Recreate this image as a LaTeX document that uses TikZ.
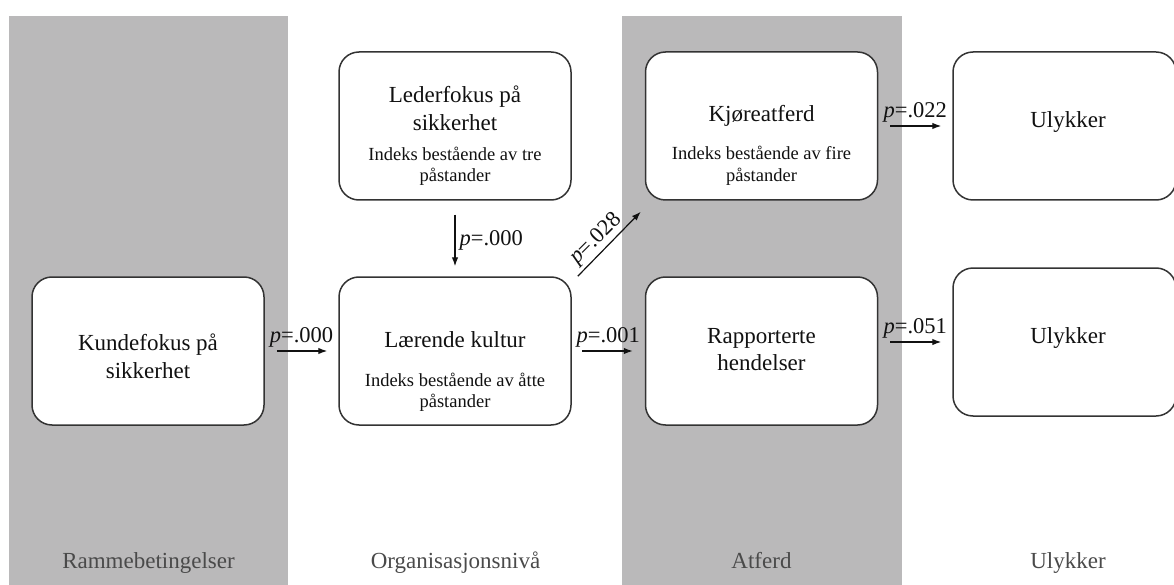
\documentclass[tikz,border=0pt]{standalone}
\usepackage{fontspec}
\setmainfont{Liberation Serif}
\usetikzlibrary{arrows.meta,calc}
\definecolor{bandgray}{HTML}{BAB9BA}
\definecolor{boxline}{HTML}{333333}
\definecolor{txt}{HTML}{111111}
\definecolor{lblgray}{HTML}{4A4A4A}
\begin{document}
\begin{tikzpicture}[x=1pt,y=-1pt,
  box/.style={draw=boxline, line width=1.5pt, rounded corners=20pt, fill=white, minimum width=232pt, minimum height=148pt, inner sep=0pt},
  ttl/.style={anchor=base, inner sep=0pt, text=txt, font=\fontsize{23}{28}\selectfont},
  sub/.style={anchor=base, inner sep=0pt, text=txt, font=\fontsize{18.5}{22}\selectfont},
  plab/.style={anchor=base, inner sep=0pt, text=txt, font=\fontsize{22.5}{26}\selectfont},
  col/.style={anchor=base, inner sep=0pt, text=lblgray, font=\fontsize{23}{28}\selectfont},
  arr/.style={-{Latex[length=9pt,width=6.5pt]}, line width=1.2pt, draw=txt}]
\useasboundingbox (0,0) rectangle (1174,585);
% bands
\fill[bandgray] (9,16) rectangle (288,585);
\fill[bandgray] (622,16) rectangle (902,585);
% boxes
\node[box] (kunde) at (148,351) {};
\node[box] (leder) at (455,126) {};
\node[box] (laer) at (455,351) {};
\node[box] (kjor) at (761.5,126) {};
\node[box] (rapp) at (761.5,351) {};
\node[box, minimum width=223pt] (uly1) at (1064.5,126) {};
\node[box, minimum width=223pt] (uly2) at (1064.5,342) {};
% box texts
\node[ttl] (kunde1) at (148,350) {Kundefokus på};
\node[ttl] (kunde2) at (148,378) {sikkerhet};
\node[ttl] (leder1) at (455,103) {Lederfokus på};
\node[ttl] (leder2) at (455,131) {sikkerhet};
\node[sub] (leder3) at (455,161) {Indeks bestående av tre};
\node[sub] (leder4) at (455,182) {påstander};
\node[ttl] (laer1) at (455,347) {Lærende kultur};
\node[sub] (laer2) at (455,386) {Indeks bestående av åtte};
\node[sub] (laer3) at (455,407) {påstander};
\node[ttl] (kjor1) at (761.5,122) {Kjøreatferd};
\node[sub] (kjor2) at (761.5,160) {Indeks bestående av fire};
\node[sub] (kjor3) at (761.5,182) {påstander};
\node[ttl] (rapp1) at (761.5,343) {Rapporterte};
\node[ttl] (rapp2) at (761.5,370) {hendelser};
\node[ttl] (uly1t) at (1068,128) {Ulykker};
\node[ttl] (uly2t) at (1068,343) {Ulykker};
% column labels
\node[col] (c1) at (148.5,568) {Rammebetingelser};
\node[col] (c2) at (455.5,568) {Organisasjonsnivå};
\node[col] (c3) at (761.5,568) {Atferd};
\node[col] (c4) at (1068,568) {Ulykker};
% arrows
\draw[arr, shorten <=12pt, shorten >=11pt] (kunde.east) -- (laer.west)
  node[midway, plab, yshift=8.5pt] (p1) {\textit{p}=.000};
\draw[arr, shorten <=14pt, shorten >=10pt] (leder.south) -- (laer.north)
  node[midway, plab, anchor=base west, xshift=4pt, yshift=-6.5pt] (p2) {\textit{p}=.000};
\draw[arr] ($(laer.north east)+(6,0)$) -- ($(kjor.south west)+(-4,11)$);
\node[plab, anchor=center, rotate=45] (p3) at (596,239) {\textit{p}=.028};
\draw[arr, shorten <=10.5pt, shorten >=12pt] (laer.east) -- (rapp.west)
  node[midway, plab, yshift=8.5pt] (p4) {\textit{p}=.001};
\draw[arr, shorten <=12pt, shorten >=11pt] (kjor.east) -- (uly1.west)
  node[midway, plab, yshift=8.5pt] (p5) {\textit{p}=.022};
\draw[arr, shorten <=12pt, shorten >=11pt] (rapp.east |- uly2.west) -- (uly2.west)
  node[midway, plab, yshift=8.5pt] (p6) {\textit{p}=.051};
\end{tikzpicture}
\end{document}
